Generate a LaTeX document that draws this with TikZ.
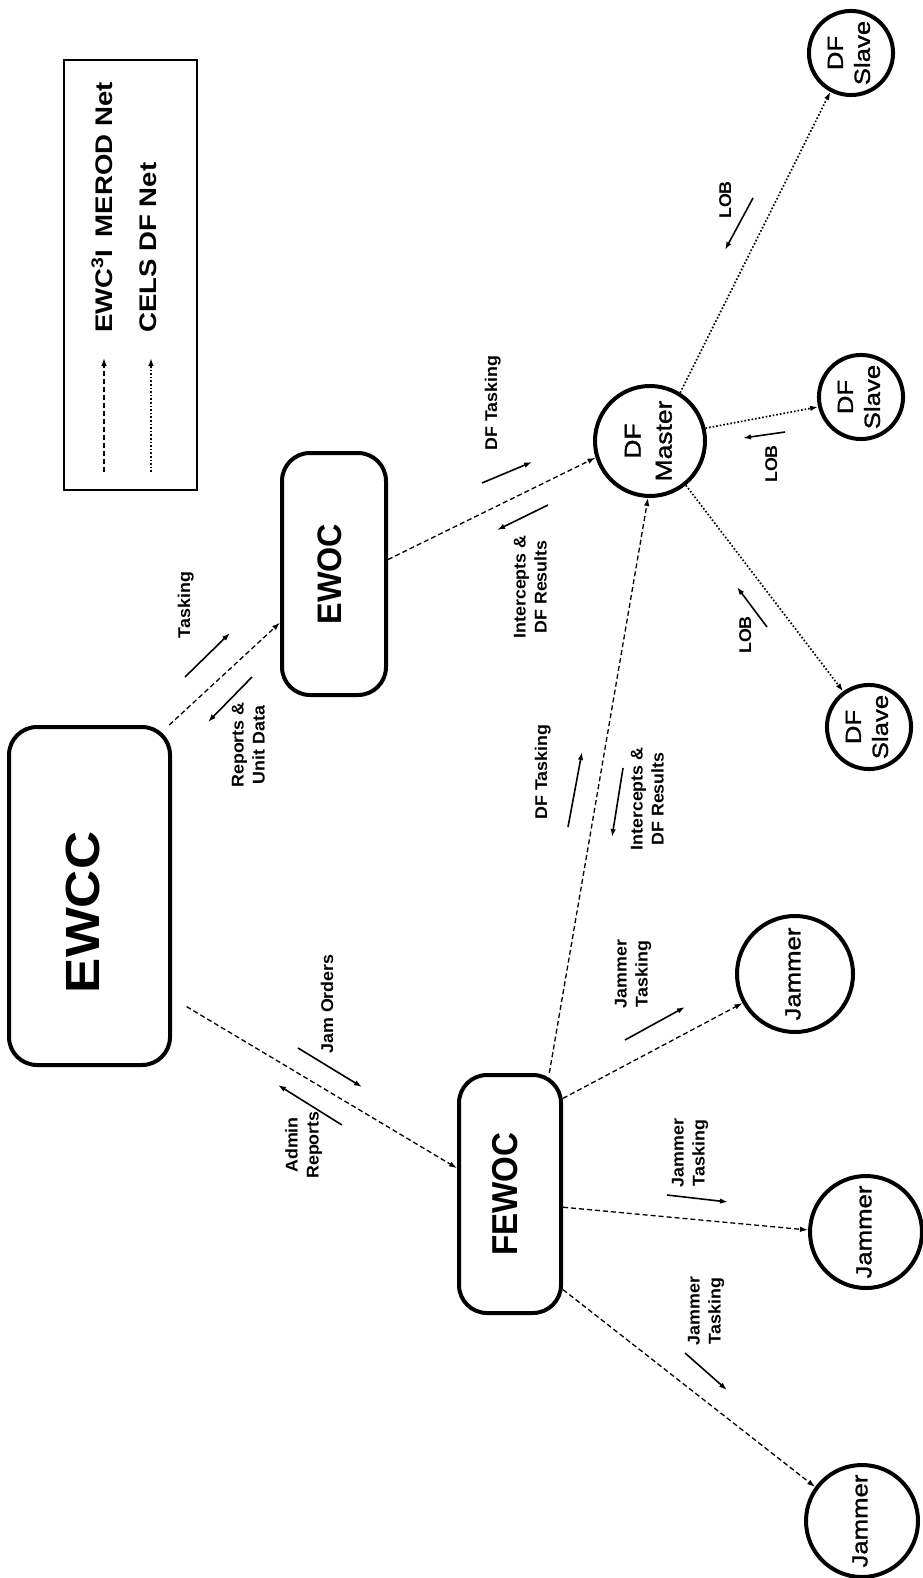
\documentclass[tikz,border=0pt]{standalone}
\usepackage{fontspec}
\setmainfont{Liberation Sans}
\newfontfamily\medfont{Liberation Sans}[FakeBold=1.2]
\usepackage{graphicx}
\usetikzlibrary{arrows.meta}
\newcommand{\rtxt}[2][1]{\rotatebox{90}{\scalebox{#1}[1]{\begin{tabular}{@{}c@{}}#2\end{tabular}}}}
\tikzset{
 rbox/.style={draw, line width=4pt, rounded corners=28pt, inner sep=0pt},
 circ/.style={draw, circle, line width=4pt, inner sep=0pt},
 dashconn/.style={line width=1.3pt, dash pattern=on 5pt off 3pt, -{Latex[length=8pt,width=5.5pt]}},
 dotconn/.style={line width=1.7pt, dash pattern=on 1.6pt off 2pt, -{Latex[length=8pt,width=5.5pt]}},
 flow/.style={line width=1.6pt, -{Latex[length=8pt,width=5.5pt]}},
 lab/.style={font=\fontsize{17}{21}\selectfont\bfseries, inner sep=0pt},
 ntxt/.style={font=\medfont\fontsize{22}{27}\selectfont},
 legtxt/.style={font=\fontsize{24}{28}\selectfont\bfseries, inner sep=0pt, anchor=south},
}
\begin{document}
\begin{tikzpicture}[x=1pt,y=-1pt]
\useasboundingbox (0,0) rectangle (922,1578);
\fill[white] (0,0) rectangle (922,1578);

% legend
\node[draw, line width=1.3pt, minimum width=133pt, minimum height=430pt, inner sep=0pt] (legend) at (130.5,275) {};
\node[legtxt] (leg1) at (106,333) {\rtxt[1.15]{EWC\textsuperscript{3}I\, MEROD Net}};
\node[legtxt] (leg2) at (151,333) {\rtxt[1.15]{CELS DF Net}};
\coordinate (l1a) at (104,472); \coordinate (l1b) at (104,358);
\coordinate (l2a) at (151,472); \coordinate (l2b) at (151,358);
\draw[dashconn] (l1a) -- (l1b);
\draw[dotconn] (l2a) -- (l2b);

% main nodes
\node[rbox, minimum width=161pt, minimum height=338pt, font=\fontsize{48}{50}\selectfont\bfseries] (ewcc) at (89.5,896) {\rtxt[1.1]{EWCC\hspace*{30pt}}};
\node[rbox, minimum width=104pt, minimum height=242pt, font=\fontsize{34}{36}\selectfont\bfseries] (ewoc) at (334,574) {\rtxt[0.95]{EWOC}};
\node[rbox, minimum width=102pt, minimum height=238pt, font=\fontsize{36}{38}\selectfont\bfseries] (fewoc) at (510,1194) {\rtxt[0.92]{FEWOC}};
\node[circ, minimum size=110pt, font=\medfont\fontsize{23}{31}\selectfont] (dfm) at (650,441) {\rtxt[1.15]{DF\\Master}};
\node[circ, minimum size=84pt, ntxt] (s1) at (851,53) {\rtxt[1.17]{DF\\Slave}};
\node[circ, minimum size=84pt, ntxt] (s2) at (861,397) {\rtxt[1.17]{DF\\Slave}};
\node[circ, minimum size=84pt, ntxt] (s3) at (869,727) {\rtxt[1.17]{DF\\Slave}};
\node[circ, minimum size=116pt, ntxt] (j1) at (795,974) {\rtxt[1.17]{Jammer}};
\node[circ, minimum size=112pt, ntxt] (j2) at (866,1232) {\rtxt[1.17]{Jammer}};
\node[circ, minimum size=112pt, ntxt] (j3) at (862,1521) {\rtxt[1.17]{Jammer}};

% connectors
\draw[dashconn] (ewcc.65) -- (ewoc.222);
\draw[dashconn, shorten <=17pt] (ewcc.-51) -- (fewoc.154);
\draw[dashconn] (ewoc.15) -- (dfm.197);
\draw[dashconn] (fewoc.72) -- (dfm.268);
\draw[dashconn] (fewoc.61) -- (j1.209);
\draw[dashconn] (fewoc.-14) -- (j2.178);
\draw[dashconn] (fewoc.-61) -- (j3.144);
\draw[dotconn] (dfm.58) -- (s1.242);
\draw[dotconn] (dfm.13) -- (s2.193);
\draw[dotconn] (dfm.-51) -- (s3.126);

% flow labels
\node[lab] (lTask) at (186,605) {\rtxt[1.05]{Tasking}};
\node[lab] (lRep) at (250,745) {\rtxt[1.05]{Reports \&\\Unit Data}};
\node[lab] (lJam) at (329,1004) {\rtxt[1.05]{Jam Orders}};
\node[lab] (lAdm) at (304,1145) {\rtxt[1.05]{Admin\\Reports}};
\node[lab] (lDft1) at (493,403) {\rtxt[1.05]{DF Tasking}};
\node[lab] (lInt1) at (532,587) {\rtxt[1.05]{Intercepts \&\\DF Results}};
\node[lab] (lDft2) at (543,772) {\rtxt[1.05]{DF Tasking}};
\node[lab] (lInt2) at (649,799) {\rtxt[1.05]{Intercepts \&\\DF Results}};
\node[lab] (lJt1) at (633,974) {\rtxt[1.05]{Jammer\\Tasking}};
\node[lab] (lJt2) at (690,1153) {\rtxt[1.05]{Jammer\\Tasking}};
\node[lab] (lJt3) at (706,1311) {\rtxt[1.05]{Jammer\\Tasking}};
\node[lab] (lLob1) at (727,200) {\rtxt[1.05]{LOB}};
\node[lab] (lLob2) at (773,464) {\rtxt[1.05]{LOB}};
\node[lab] (lLob3) at (747,635) {\rtxt[1.05]{LOB}};

% flow arrows
\coordinate (a1s) at (185,677); \coordinate (a1e) at (230,633);
\coordinate (a2s) at (252,677); \coordinate (a2e) at (208,722);
\coordinate (a3s) at (298,1048); \coordinate (a3e) at (362,1087);
\coordinate (a4s) at (342,1125); \coordinate (a4e) at (278,1085);
\coordinate (a5s) at (482,483); \coordinate (a5e) at (532,462);
\coordinate (a6s) at (548,505); \coordinate (a6e) at (497,530);
\coordinate (a7s) at (568,827); \coordinate (a7e) at (582,752);
\coordinate (a8s) at (623,768); \coordinate (a8e) at (612,837);
\coordinate (a9s) at (625,1040); \coordinate (a9e) at (685,1007);
\coordinate (a10s) at (667,1195); \coordinate (a10e) at (728,1202);
\coordinate (a11s) at (685,1353); \coordinate (a11e) at (727,1390);
\coordinate (a12s) at (753,198); \coordinate (a12e) at (725,250);
\coordinate (a13s) at (785,432); \coordinate (a13e) at (743,438);
\coordinate (a14s) at (767,627); \coordinate (a14e) at (737,587);
\foreach \i in {1,...,14} {\draw[flow] (a\i s) -- (a\i e);}
\end{tikzpicture}
\end{document}
